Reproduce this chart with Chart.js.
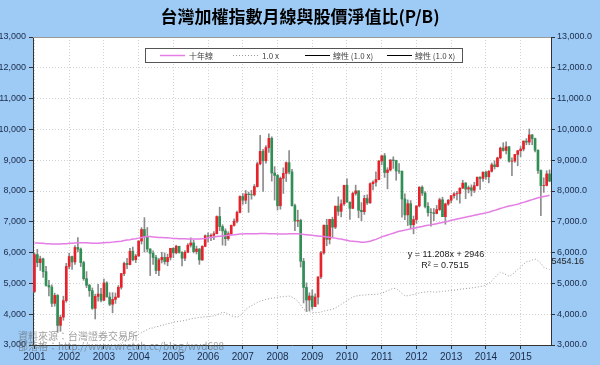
<!DOCTYPE html>
<html>
<head>
<meta charset="utf-8">
<script src="https://cdn.jsdelivr.net/npm/chart.js@4.4.0/dist/chart.umd.min.js"></script>
<style>
html, body { margin: 0; padding: 0; background: #9dcbf5; }
</style>
</head>
<body>
<canvas id="myChart" width="600" height="365"></canvas>
<script>
// TAIEX monthly OHLC, Jan 2001 - Nov 2015
var opens = [
  4739,5936,5674,5797,5382,4935,4883,4352,4610,3636,3903,4441,
  5551,5872,5695,6167,6112,5675,5154,4940,4764,4191,4579,4653,
  4452,5015,4556,4322,4480,4556,4873,5318,5650,5611,6045,5771,
  5890,6375,6750,6522,6117,5977,5840,5420,5765,5845,5706,5844,
  6140,5994,6207,6006,5819,6011,6242,6312,6033,6118,5764,6203,
  6548,6532,6562,6614,7171,6846,6704,6452,6611,6884,7021,7304,
  7823,7699,7902,7884,7875,8145,8883,9287,8982,9411,9711,8586,
  8506,7521,8413,8572,8920,8619,7524,7024,7046,5719,4870,4460,
  4591,4248,4557,5210,5992,6890,6432,7078,6826,7509,7340,7582,
  8188,7640,7436,7920,8004,7374,7329,7760,7616,8238,8287,8372,
  8973,9145,8600,8683,9007,8988,8653,8644,7741,7225,7588,6904,
  7072,7517,8121,7933,7501,7301,7296,7270,7397,7716,7166,7580,
  7700,7850,7908,7919,8093,8254,8063,8107,8022,8174,8450,8407,
  8611,8462,8639,8849,8791,9075,9393,9315,9436,8966,8974,9187,
  9307,9361,9622,9586,9820,9701,9323,8665,8175,8181,8554
];
var highs = [
  5994,6104,5884,5823,5556,5100,4952,4683,4640,3972,4585,5652,
  5980,5890,6226,6484,6150,5720,5383,4969,4853,4650,4969,4840,
  5141,5054,4700,4700,4689,4931,5330,5692,5812,6142,6182,5947,
  6390,6811,7135,6815,6128,6055,5910,5812,6013,5991,5951,6140,
  6158,6240,6207,6030,6065,6290,6481,6401,6211,6131,6224,6575,
  6642,6606,6679,7193,7474,6904,6773,6677,6896,7094,7350,7842,
  7920,8020,7966,8023,8212,8939,9807,9350,9475,9859,9760,8792,
  8539,8456,8753,8945,9309,8703,7578,7376,7084,5812,5017,4695,
  4792,4661,5210,6043,6890,7084,7078,7151,7509,7811,7713,8188,
  8395,7640,7960,8190,8015,7624,7860,7877,8263,8330,8624,8990,
  9145,9220,8757,9019,9110,9000,8890,8645,7908,7711,7690,7188,
  7517,8144,8170,7979,7628,7428,7433,7532,7767,7800,7607,7727,
  7855,7949,7986,8101,8349,8280,8164,8199,8285,8450,8462,8623,
  8647,8667,8907,8982,9099,9428,9569,9593,9445,9077,9187,9315,
  9442,9622,9700,10014,9836,9720,9337,8685,8430,8657,8686
];
var lows = [
  4696,5539,5421,5196,4908,4593,4248,4260,3411,3446,3804,4387,
  5470,5455,5620,6019,5546,5100,4863,4579,4157,3845,4424,4397,
  4442,4564,4278,4044,4349,4535,4814,5254,5480,5600,5732,5676,
  5879,6278,6020,6020,5255,5620,5316,5255,5665,5623,5573,5760,
  5836,5959,5983,5565,5735,5992,6180,5988,5956,5618,5742,6190,
  6339,6388,6421,6606,6711,6242,6232,6400,6570,6858,6963,7290,
  7567,7589,7306,7733,7838,8125,8850,7987,8900,9250,8320,7705,
  7384,7408,7920,8307,8553,7508,6708,6842,5530,4365,4089,4110,
  4164,4242,4328,5153,5950,6223,6280,6495,6779,7208,7159,7535,
  7640,7080,7423,7862,7130,7032,7240,7562,7600,8039,8160,8360,
  8850,8441,8070,8648,8732,8350,8573,7148,7066,6879,6773,6609,
  6953,7482,7854,7454,7186,6857,7037,7257,7368,7166,6922,7534,
  7616,7770,7712,7607,8080,7749,7937,7838,7950,8161,8050,8313,
  8374,8264,8614,8714,8781,9041,9293,9205,8937,8501,8930,8820,
  9115,9300,9500,9500,9502,9270,8568,7203,7955,8165,8300
];
var closes = [
  5936,5674,5797,5382,4935,4883,4352,4610,3636,3903,4441,5551,
  5872,5695,6167,6112,5675,5154,4940,4764,4191,4579,4653,4452,
  5015,4556,4322,4480,4556,4873,5318,5650,5611,6045,5771,5890,
  6375,6750,6522,6117,5977,5840,5420,5765,5845,5706,5844,6140,
  5994,6207,6006,5819,6011,6242,6312,6033,6118,5764,6203,6548,
  6532,6562,6614,7171,6846,6704,6452,6611,6884,7021,7304,7823,
  7699,7902,7884,7875,8145,8883,9287,8982,9411,9711,8586,8506,
  7521,8413,8572,8920,8619,7524,7024,7046,5719,4870,4460,4591,
  4248,4557,5210,5992,6890,6432,7078,6826,7509,7340,7582,8188,
  7640,7436,7920,8004,7374,7329,7760,7616,8238,8287,8372,8973,
  9145,8600,8683,9007,8988,8653,8644,7741,7225,7588,6904,7072,
  7517,8121,7933,7501,7301,7296,7270,7397,7716,7166,7580,7700,
  7850,7908,7919,8093,8254,8063,8107,8022,8174,8450,8407,8611,
  8462,8639,8849,8791,9075,9393,9315,9436,8966,8974,9187,9307,
  9361,9622,9586,9820,9701,9323,8665,8175,8181,8554,8320
];
// 十年線 (10-year moving average)
var ma10 = [
  6310,6310,6300,6300,6290,6290,6280,6280,6280,6280,6290,6290,
  6300,6300,6310,6320,6320,6320,6320,6310,6300,6300,6300,6310,
  6320,6330,6330,6340,6350,6360,6370,6390,6410,6420,6440,6450,
  6470,6490,6510,6520,6520,6510,6500,6490,6490,6480,6480,6470,
  6460,6460,6450,6450,6450,6440,6440,6440,6440,6440,6450,6460,
  6480,6490,6510,6520,6530,6540,6550,6560,6570,6580,6590,6600,
  6600,6610,6610,6610,6610,6610,6620,6620,6620,6610,6610,6610,
  6600,6600,6600,6600,6610,6610,6610,6610,6600,6590,6580,6570,
  6560,6550,6540,6530,6520,6510,6500,6480,6470,6450,6440,6420,
  6400,6380,6370,6360,6350,6340,6340,6350,6370,6400,6430,6470,
  6510,6540,6570,6600,6630,6660,6690,6710,6730,6750,6770,6790,
  6810,6830,6850,6870,6890,6900,6920,6940,6960,6980,7000,7020,
  7050,7070,7090,7110,7130,7150,7170,7190,7210,7230,7250,7270,
  7290,7310,7340,7370,7400,7430,7460,7490,7510,7530,7550,7570,
  7600,7630,7660,7690,7720,7750,7780,7800,7820,7840,7860
];
// 1.0 x P/B (book value line)
var pb1 = [
  2700,2700,2700,2650,2650,2650,2600,2600,2550,2550,2600,2600,
  2650,2650,2700,2700,2750,2750,2800,2800,2800,2850,2850,2900,
  2900,2900,2950,2950,2950,3000,3050,3100,3150,3200,3250,3300,
  3350,3400,3450,3500,3550,3550,3600,3600,3650,3650,3700,3700,
  3750,3750,3770,3780,3800,3820,3850,3870,3880,3900,3900,3920,
  3920,3930,3940,3980,4020,4060,4050,4000,3950,3920,3900,3950,
  4050,4150,4220,4280,4325,4380,4420,4450,4480,4500,4520,4530,
  4550,4560,4570,4580,4590,4560,4500,4420,4300,4160,4100,4080,
  4060,4050,4050,4070,4100,4120,4140,4160,4200,4260,4320,4380,
  4440,4500,4560,4590,4600,4620,4620,4630,4640,4640,4650,4650,
  4680,4720,4760,4800,4840,4830,4760,4680,4600,4600,4620,4640,
  4660,4690,4710,4720,4730,4730,4720,4720,4730,4740,4750,4760,
  4770,4780,4790,4810,4820,4830,4840,4850,4870,4880,4900,4910,
  4950,5000,5070,5180,5280,5360,5330,5280,5230,5280,5360,5450,
  5530,5620,5700,5720,5760,5790,5740,5650,5520,5480,5454.16
];

var months = [];
for (var y = 2001; y <= 2015; y++) {
  for (var m = 1; m <= 12; m++) {
    if (months.length < closes.length) months.push(y + '/' + (m < 10 ? '0' + m : m));
  }
}

var upColor = '#e8222a';
var downColor = '#2f8f55';

var decor = {
  id: 'decor',
  beforeDraw: function(chart) {
    var c = chart.ctx, a = chart.chartArea;
    c.save();
    c.fillStyle = '#9dcbf5';
    c.fillRect(0, 0, chart.width, chart.height);
    c.fillStyle = '#ffffff';
    c.fillRect(a.left, a.top, a.right - a.left, a.bottom - a.top);
    c.restore();
  },
  afterDraw: function(chart) {
    var c = chart.ctx, a = chart.chartArea;
    var xs = chart.scales.x, ys = chart.scales.y;
    c.save();

    // title
    c.fillStyle = '#000';
    c.font = 'bold 17px "Noto Sans CJK TC"';
    c.textAlign = 'center';
    c.textBaseline = 'middle';
    c.fillText('台灣加權指數月線與股價淨值比(P/B)', 300, 17);

    // legend box
    c.fillStyle = '#fff';
    c.fillRect(145, 48, 317, 14);
    c.strokeStyle = '#555';
    c.lineWidth = 1;
    c.strokeRect(145.5, 48.5, 317, 14);
    c.font = '8px "Noto Sans CJK TC"';
    c.textAlign = 'left';
    c.fillStyle = '#444';
    var ly = 55.5;
    c.strokeStyle = '#e47de4'; c.lineWidth = 1.5;
    c.beginPath(); c.moveTo(160, ly); c.lineTo(185, ly); c.stroke();
    c.fillText('十年線', 189, ly);
    c.strokeStyle = '#999'; c.lineWidth = 1; c.setLineDash([1, 2]);
    c.beginPath(); c.moveTo(233, ly); c.lineTo(258, ly); c.stroke();
    c.setLineDash([]);
    c.fillText('1.0 x', 262, ly);
    c.strokeStyle = '#000'; c.lineWidth = 1;
    c.beginPath(); c.moveTo(305, ly); c.lineTo(330, ly); c.stroke();
    c.fillText('線性 (1.0 x)', 333, ly);
    c.beginPath(); c.moveTo(387, ly); c.lineTo(412, ly); c.stroke();
    c.fillText('線性 (1.0 x)', 415, ly);

    // top border of plot
    c.strokeStyle = '#9a9a9a';
    c.beginPath(); c.moveTo(a.left, a.top + 0.5); c.lineTo(a.right, a.top + 0.5); c.stroke();

    // trendline equation
    c.fillStyle = '#222';
    c.font = '9px "Liberation Sans"';
    c.textAlign = 'center';
    c.fillText('y = 11.208x + 2946', 446, 255);
    c.fillText('R² = 0.7515', 445, 266);

    // last value label
    var li = pb1.length - 1;
    c.textAlign = 'left';
    c.fillText(String(pb1[li]), xs.getPixelForValue(li) + 2, ys.getPixelForValue(pb1[li]) - 8);

    // source watermark
    c.fillStyle = 'rgba(95,95,95,0.6)';
    c.font = '10px "Noto Sans CJK TC"';
    c.fillText('資料來源：台灣證券交易所', 18, 336);
    c.fillText('部落格：http://www.wretch.cc/blog/wvd688', 18, 346);
    c.restore();
  }
};

var tickFont = { family: '"Liberation Sans"', size: 9 };
var ctx = document.getElementById('myChart').getContext('2d');
var myChart = new Chart(ctx, {
  data: {
    labels: months,
    datasets: [{
      type: 'line',
      label: '1.0 x',
      data: pb1,
      borderColor: '#999',
      borderWidth: 1,
      borderDash: [1, 2],
      pointRadius: 0,
      order: 0
    }, {
      type: 'line',
      label: '十年線',
      data: ma10,
      borderColor: '#e47de4',
      borderWidth: 1.5,
      pointRadius: 0,
      order: 1
    }, {
      type: 'bar',
      label: 'body',
      data: opens.map(function(o, i) { return [o, closes[i]]; }),
      backgroundColor: function(c) {
        return closes[c.dataIndex] >= opens[c.dataIndex] ? upColor : downColor;
      },
      barThickness: 2,
      grouped: false,
      order: 2
    }, {
      type: 'bar',
      label: 'wick',
      data: lows.map(function(l, i) { return [l, highs[i]]; }),
      backgroundColor: '#8c8c8c',
      barThickness: 1,
      grouped: false,
      order: 3
    }]
  },
  options: {
    responsive: false,
    animation: false,
    layout: { padding: { top: 37, left: 0, right: 0, bottom: 0 } },
    plugins: {
      legend: { display: false },
      tooltip: { enabled: false }
    },
    scales: {
      x: {
        type: 'category',
        offset: true,
        afterFit: function(s) { s.height = 20; },
        grid: { offset: false, color: '#d2d2d2', tickLength: 4, tickColor: '#333' },
        border: { color: '#333', dash: [1, 2] },
        ticks: {
          autoSkip: false, maxRotation: 0, padding: 2,
          color: '#1c2a48', font: { family: '"Liberation Sans"', size: 10 },
          callback: function(v, i) { return i % 12 === 0 ? months[i].slice(0, 4) : null; }
        }
      },
      y: {
        position: 'left',
        min: 3000, max: 13000,
        afterFit: function(s) { s.width = 33; },
        grid: { color: '#d2d2d2', tickLength: 4, tickColor: '#333' },
        border: { color: '#333', dash: [1, 2] },
        ticks: {
          stepSize: 1000, padding: 3, color: '#1c2a48', font: tickFont,
          callback: function(v) { return v.toLocaleString('en-US'); }
        }
      },
      y2: {
        position: 'right',
        min: 3000, max: 13000,
        afterFit: function(s) { s.width = 49; },
        grid: { drawOnChartArea: false, tickLength: 4, tickColor: '#333' },
        border: { color: '#333' },
        ticks: {
          stepSize: 1000, padding: 2, color: '#1c2a48', font: tickFont,
          callback: function(v) { return v.toLocaleString('en-US', { minimumFractionDigits: 1 }); }
        }
      }
    }
  },
  plugins: [decor]
});
</script>
</body>
</html>
